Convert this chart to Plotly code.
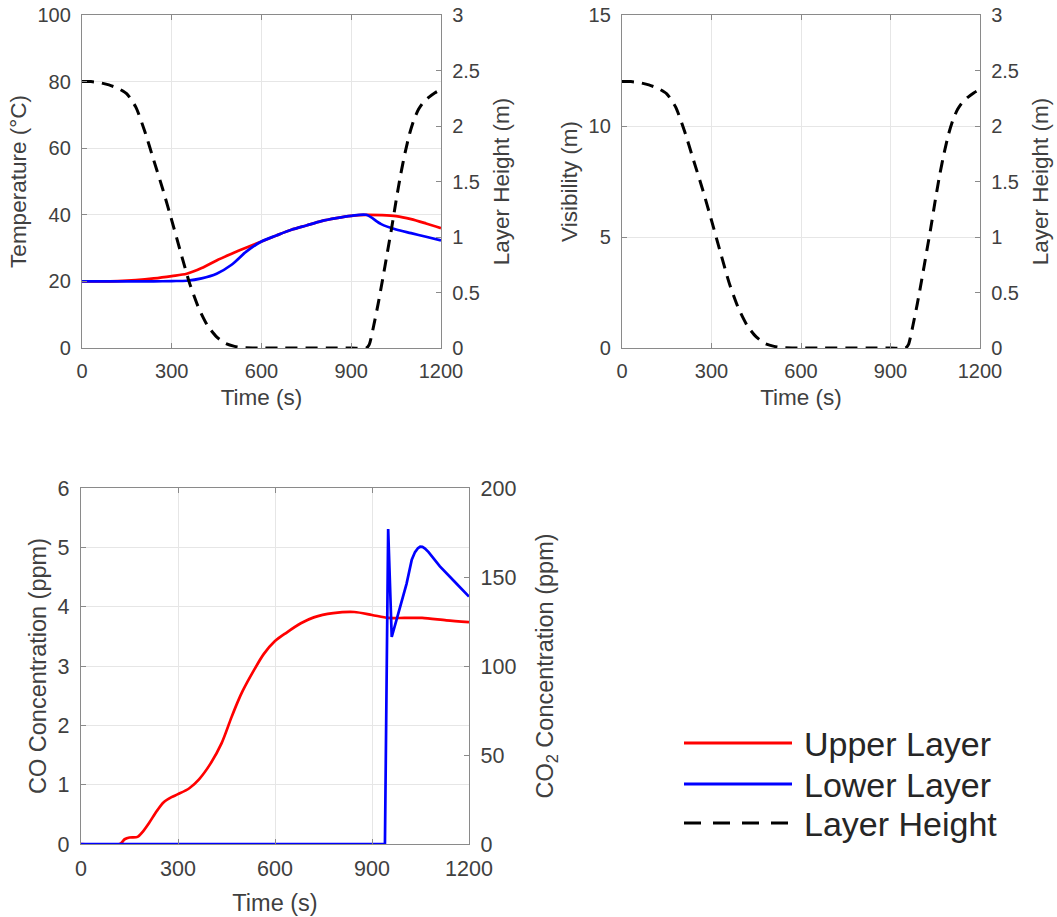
import plotly.graph_objects as go

# ---------------- data ----------------
# Layer height (m)
t_height = [0, 30, 60, 90, 120, 150, 180, 210, 240, 270, 300, 330, 360, 390, 420,
            450, 480, 510, 540, 570, 600, 900, 950, 960, 975, 990, 1005, 1020, 1035,
            1050, 1065, 1080, 1095, 1110, 1125, 1140, 1160, 1180, 1200]
layer_height = [2.40, 2.40, 2.39, 2.37, 2.34, 2.29, 2.17, 1.95, 1.69, 1.43, 1.15, 0.86,
                0.58, 0.36, 0.20, 0.10, 0.04, 0.015, 0.003, 0.0, 0.0, 0.0, 0.0, 0.03,
                0.20, 0.40, 0.62, 0.85, 1.08, 1.33, 1.56, 1.76, 1.93, 2.06, 2.15, 2.21,
                2.26, 2.30, 2.33]

# Temperature (°C)
t_temp = [0, 60, 120, 180, 240, 300, 350, 400, 450, 500, 550, 600, 650, 700, 750, 800,
          850, 900, 950, 1000, 1050, 1100, 1150, 1200]
temp_upper = [20.0, 20.0, 20.1, 20.4, 20.9, 21.6, 22.3, 24.0, 26.3, 28.3, 30.2, 32.0,
              33.8, 35.5, 36.8, 38.1, 39.0, 39.7, 40.0, 39.9, 39.6, 38.7, 37.4, 36.0]
temp_lower = [20.0, 20.0, 20.0, 20.0, 20.0, 20.1, 20.2, 20.9, 22.3, 25.0, 29.0, 32.0,
              33.8, 35.5, 36.8, 38.1, 39.0, 39.7, 40.0, 37.2, 35.6, 34.5, 33.4, 32.3]

# Visibility (m) - no values visible in the reference
t_vis = []
visibility = []

# CO concentration, upper layer (ppm)
t_co = [0, 120, 135, 150, 175, 190, 210, 235, 255, 280, 300, 335, 365, 400, 435, 465,
        485, 500, 535, 565, 600, 635, 680, 720, 780, 845, 900, 950, 1000, 1055, 1130, 1200]
co_upper = [0, 0, 0.08, 0.11, 0.12, 0.20, 0.35, 0.56, 0.70, 0.79, 0.84, 0.94, 1.09,
            1.35, 1.70, 2.13, 2.40, 2.58, 2.93, 3.20, 3.42, 3.56, 3.72, 3.82, 3.89, 3.91,
            3.86, 3.81, 3.81, 3.81, 3.77, 3.74]

# CO2 concentration, lower layer (ppm)
t_co2 = [0, 940, 950, 961, 981, 1007, 1023, 1033, 1042, 1049, 1056, 1064, 1075, 1110,
         1155, 1200]
co2_lower = [0, 0, 177.0, 116.3, 129.3, 146.3, 159.7, 164.0, 166.2, 167.0, 166.9, 166.0,
             164.0, 156.0, 147.5, 139.0]

x_ticks = [0, 300, 600, 900, 1200]
temp_ticks = [0, 20, 40, 60, 80, 100]
height_ticks = [0, 0.5, 1, 1.5, 2, 2.5, 3]
height_labels = ["0", "0.5", "1", "1.5", "2", "2.5", "3"]
vis_ticks = [0, 5, 10, 15]
co_ticks = [0, 1, 2, 3, 4, 5, 6]
co2_ticks = [0, 50, 100, 150, 200]

legend_names = ["Upper Layer", "Lower Layer", "Layer Height"]

# ---------------- styling ----------------
W, H = 1057, 917
FONT = "Liberation Sans, Arial, sans-serif"
TXT = "#404040"
AX = "#8a8a8a"
GRID = "#e6e6e6"
RED = "#ff0000"
BLUE = "#0000ff"


def fx(p):
    return p / W


def fy(p):
    return 1 - p / H


def tickf(s):
    return dict(family=FONT, size=s, color=TXT)


red_line = dict(color=RED, width=2.7, shape="spline", smoothing=0.8)
blue_line = dict(color=BLUE, width=2.7, shape="spline", smoothing=0.8)
dash_line = dict(color="black", width=3, dash="12px,8px", shape="spline", smoothing=0.6)

fig = go.Figure()
# top-left
fig.add_trace(go.Scatter(x=t_temp, y=temp_upper, xaxis="x", yaxis="y", mode="lines",
                         line=red_line, name=legend_names[0], showlegend=False))
fig.add_trace(go.Scatter(x=t_temp, y=temp_lower, xaxis="x", yaxis="y", mode="lines",
                         line=blue_line, name=legend_names[1], showlegend=False))
fig.add_trace(go.Scatter(x=t_height, y=layer_height, xaxis="x", yaxis="y2", mode="lines",
                         line=dash_line, name=legend_names[2], showlegend=False))
# top-right
fig.add_trace(go.Scatter(x=t_vis, y=visibility, xaxis="x2", yaxis="y3", mode="lines",
                         line=dict(color=RED, width=2.6), name="Visibility",
                         showlegend=False))
fig.add_trace(go.Scatter(x=t_height, y=layer_height, xaxis="x2", yaxis="y4", mode="lines",
                         line=dash_line, name=legend_names[2], showlegend=False))
# bottom
fig.add_trace(go.Scatter(x=t_co, y=co_upper, xaxis="x3", yaxis="y5", mode="lines",
                         line=red_line, name=legend_names[0], showlegend=False))
fig.add_trace(go.Scatter(x=t_co2, y=co2_lower, xaxis="x3", yaxis="y6", mode="lines",
                         line=dict(color=BLUE, width=2.7), name=legend_names[1],
                         showlegend=False))


def xax(domain, anchor, tsize, fsize, standoff):
    return dict(domain=domain, anchor=anchor, range=[0, 1200], tickvals=x_ticks,
                showgrid=True, gridcolor=GRID, gridwidth=1, zeroline=False,
                showline=True, linecolor=AX, linewidth=1.2, mirror="ticks",
                ticks="inside", ticklen=5, tickcolor=AX, tickfont=tickf(tsize),
                ticklabelstandoff=5, automargin=False,
                title=dict(text="Time (s)", font=tickf(fsize), standoff=standoff),
                fixedrange=True)


def yleft(domain, anchor, rng, tv, title, tsize, fsize, tt=None):
    d = dict(domain=domain, anchor=anchor, range=rng, tickvals=tv,
             showgrid=True, gridcolor=GRID, gridwidth=1, zeroline=False,
             showline=True, linecolor=AX, linewidth=1.2,
             ticks="inside", ticklen=5, tickcolor=AX, tickfont=tickf(tsize),
             ticklabelstandoff=6, automargin=False,
             title=dict(text=title, font=tickf(fsize), standoff=4), fixedrange=True)
    if tt is not None:
        d["ticktext"] = tt
    return d


def yright(over, anchor, rng, tv, title, standoff, tsize, fsize, tt=None):
    d = dict(overlaying=over, anchor=anchor, side="right", range=rng, tickvals=tv,
             showgrid=False, zeroline=False, showline=True, linecolor=AX, linewidth=1.2,
             ticks="inside", ticklen=5, tickcolor=AX, tickfont=tickf(tsize),
             ticklabelstandoff=6, automargin=False,
             title=dict(text=title, font=tickf(fsize), standoff=standoff), fixedrange=True)
    if tt is not None:
        d["ticktext"] = tt
    return d


top_y = [fy(348), fy(15)]
fig.update_layout(
    width=W, height=H,
    margin=dict(l=0, r=0, t=0, b=0, pad=0, autoexpand=False),
    paper_bgcolor="white", plot_bgcolor="white",
    font=dict(family=FONT, color=TXT),
    showlegend=False,
    xaxis=xax([fx(82), fx(441)], "y", 20, 22.5, 8),
    yaxis=yleft(top_y, "x", [0, 100], temp_ticks, "Temperature (°C)", 20, 22.5),
    yaxis2=yright("y", "x", [0, 3], height_ticks, "Layer Height (m)", 14, 20, 22.5,
                  height_labels),
    xaxis2=xax([fx(622), fx(980)], "y3", 20, 22.5, 8),
    yaxis3=yleft(top_y, "x2", [0, 15], vis_ticks, "Visibility (m)", 20, 22.5),
    yaxis4=yright("y3", "x2", [0, 3], height_ticks, "Layer Height (m)", 14, 20, 22.5,
                  height_labels),
    xaxis3=xax([fx(81), fx(469)], "y5", 21.5, 23.5, 14),
    yaxis5=yleft([fy(844), fy(488)], "x3", [0, 6], co_ticks, "CO Concentration (ppm)",
                 21.5, 23.5),
    yaxis6=yright("y5", "x3", [0, 200], co2_ticks, "CO<sub>2</sub> Concentration (ppm)",
                  21, 21.5, 23.5),
)

# legend drawn manually (long line samples as in the reference)
leg_y = [743, 784, 823]
leg_styles = [dict(color=RED, width=3), dict(color=BLUE, width=3),
              dict(color="black", width=3.2, dash="17px,12px")]
for yy, st, name in zip(leg_y, leg_styles, legend_names):
    fig.add_shape(type="line", xref="paper", yref="paper",
                  x0=fx(684), x1=fx(792), y0=fy(yy), y1=fy(yy), line=st)
    fig.add_annotation(xref="paper", yref="paper", x=fx(802), y=fy(yy + 1),
                       text=name, showarrow=False, xanchor="left", yanchor="middle",
                       font=dict(family=FONT, size=34, color="#262626"))

fig.write_html(
    "out.html",
    config={"displayModeBar": False, "staticPlot": True},
    post_script="document.body.style.margin='0px';document.body.style.overflow='hidden';",
)
